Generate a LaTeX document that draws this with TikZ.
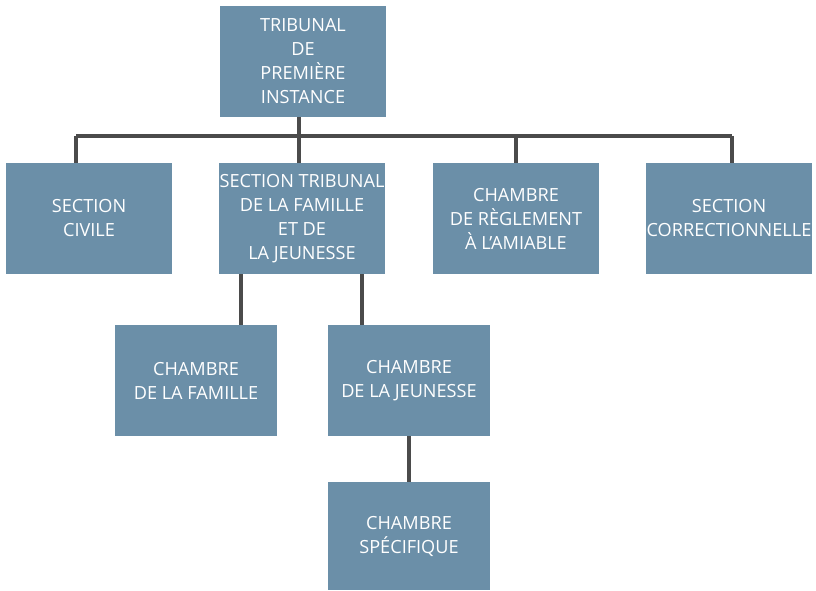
\documentclass[tikz,border=0pt]{standalone}
\usepackage{fontspec}
\setmainfont{Open Sans}
\definecolor{boxblue}{RGB}{107,143,168}
\definecolor{linkgray}{RGB}{75,75,75}
\tikzset{
	box/.style = {fill=boxblue, text=white, align=center, inner sep=0pt,
		minimum width=124.5pt, minimum height=83.25pt,
		font=\fontsize{13.6}{18}\selectfont},
	smallbox/.style = {box, minimum width=121.5pt},
	link/.style = {linkgray, line width=2.3pt}
}
\begin{document}
\begin{tikzpicture}[x = 0.75pt, y = -0.75pt]
	\useasboundingbox (0,0) rectangle (816,591);
	% bus line and drop points
	\coordinate[](civdrop) at (76,136) ;
	\coordinate[](tribdrop) at (299,136) ;
	\coordinate[](regldrop) at (516,136) ;
	\coordinate[](corrdrop) at (732,136) ;
	\coordinate[](famdrop) at (241,300) ;
	\coordinate[](jeudrop) at (362,300) ;
	
	\node[box](trib) at (303,61.5) {TRIBUNAL\\DE\\PREMIÈRE\\INSTANCE};
	
	\node[box](civ) at (89,218.5) {SECTION\\CIVILE};
	\node[box](sec) at (302,218.5) {SECTION TRIBUNAL\\DE LA FAMILLE\\ET DE\\LA JEUNESSE};
	\node[box](regl) at (516,218.5) {CHAMBRE\\DE RÈGLEMENT\\À L’AMIABLE};
	\node[box](corr) at (729,218.5) {SECTION\\CORRECTIONNELLE};
	
	\node[smallbox](fam) at (196,380.5) {CHAMBRE\\DE LA FAMILLE};
	\node[smallbox](jeu) at (409,380.5) {CHAMBRE\\DE LA JEUNESSE};
	\node[smallbox, minimum height=81pt](spec) at (409,536) {CHAMBRE\\SPÉCIFIQUE};
	
	\draw[link] (trib.south -| tribdrop) -- (sec.north -| tribdrop);
	\draw[link] (civdrop) -- (corrdrop);
	\foreach \n in {civ, regl, corr}
		\draw[link] (\n drop) -- (\n.north -| \n drop);
	
	\draw[link] (sec.south -| famdrop) -- (fam.north -| famdrop);
	\draw[link] (sec.south -| jeudrop) -- (jeu.north -| jeudrop);
	\draw[link] (jeu.south) -- (spec.north);
	
\end{tikzpicture}
\end{document}
